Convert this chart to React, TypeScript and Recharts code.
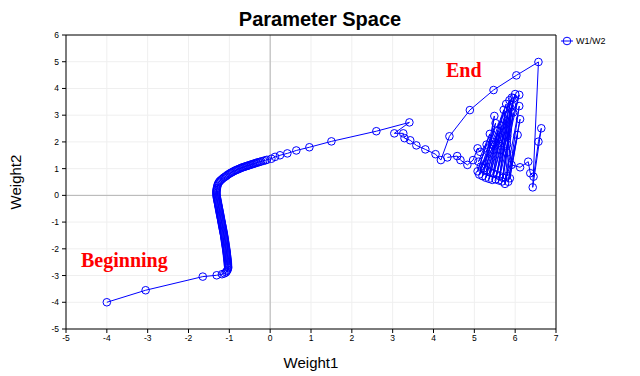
import React from 'react';
import { ScatterChart, Scatter, XAxis, YAxis, CartesianGrid, ReferenceLine } from 'recharts';

const xTicks = [-5, -4, -3, -2, -1, 0, 1, 2, 3, 4, 5, 6, 7];
const yTicks = [-5, -4, -3, -2, -1, 0, 1, 2, 3, 4, 5, 6];

const startPath: [number, number][] = [
  [-4, -4], [-3.05, -3.55], [-1.65, -3.04], [-1.31, -2.99], [-1.18, -2.95], [-1.12, -2.92],
  [-1.08, -2.88], [-1.06, -2.83], [-1.04, -2.78], [-1.03, -2.72],
];

const descentBand: [number, number][] = [
  [-1.03, -2.68], [-1.032, -2.64], [-1.034, -2.6], [-1.036, -2.56], [-1.038, -2.52], [-1.04, -2.48],
  [-1.043, -2.44], [-1.046, -2.4], [-1.049, -2.36], [-1.052, -2.32], [-1.055, -2.28], [-1.058, -2.24],
  [-1.061, -2.2], [-1.064, -2.16], [-1.067, -2.12], [-1.07, -2.08], [-1.074, -2.04], [-1.078, -2.0],
  [-1.082, -1.96], [-1.086, -1.92], [-1.09, -1.88], [-1.094, -1.84], [-1.098, -1.8], [-1.102, -1.76],
  [-1.106, -1.72], [-1.11, -1.68], [-1.114, -1.64], [-1.118, -1.6], [-1.122, -1.56], [-1.126, -1.52],
  [-1.13, -1.48], [-1.135, -1.44], [-1.14, -1.4], [-1.145, -1.36], [-1.15, -1.32], [-1.155, -1.28],
  [-1.16, -1.24], [-1.165, -1.2], [-1.17, -1.16], [-1.175, -1.12], [-1.18, -1.08], [-1.185, -1.04],
  [-1.19, -1.0], [-1.195, -0.96], [-1.2, -0.92], [-1.205, -0.88], [-1.21, -0.84], [-1.215, -0.8],
  [-1.22, -0.76], [-1.225, -0.72], [-1.23, -0.68], [-1.235, -0.64], [-1.24, -0.6], [-1.245, -0.56],
  [-1.25, -0.52], [-1.255, -0.48], [-1.26, -0.44], [-1.265, -0.4], [-1.27, -0.36], [-1.275, -0.32],
  [-1.28, -0.28], [-1.285, -0.24], [-1.29, -0.2], [-1.295, -0.16], [-1.3, -0.12], [-1.305, -0.08],
  [-1.31, -0.04], [-1.312, 0.0], [-1.315, 0.04], [-1.316, 0.08], [-1.316, 0.12], [-1.315, 0.16],
  [-1.312, 0.2], [-1.308, 0.24], [-1.302, 0.28],
];

const turnCurve: [number, number][] = [
  [-1.295, 0.34], [-1.285, 0.4], [-1.27, 0.45], [-1.25, 0.5], [-1.23, 0.54], [-1.2, 0.58],
  [-1.17, 0.62], [-1.14, 0.66], [-1.11, 0.69], [-1.08, 0.72], [-1.05, 0.76], [-1.02, 0.79],
  [-0.99, 0.82], [-0.96, 0.845], [-0.93, 0.87], [-0.9, 0.895], [-0.87, 0.92], [-0.84, 0.94],
  [-0.81, 0.96], [-0.78, 0.98], [-0.75, 1.0], [-0.72, 1.02], [-0.69, 1.04], [-0.66, 1.055],
  [-0.63, 1.07], [-0.6, 1.085], [-0.57, 1.1], [-0.54, 1.115], [-0.51, 1.13], [-0.48, 1.145],
  [-0.45, 1.16], [-0.42, 1.175], [-0.39, 1.19], [-0.36, 1.205], [-0.33, 1.22], [-0.3, 1.235],
  [-0.26, 1.25], [-0.22, 1.27], [-0.17, 1.29], [-0.12, 1.31], [-0.08, 1.33], [0.03, 1.37],
  [0.12, 1.44], [0.24, 1.5], [0.42, 1.57], [0.64, 1.68], [0.96, 1.8], [1.5, 2.02], [2.6, 2.4],
  [3.41, 2.73],
];

const approachPath: [number, number][] = [
  [3.04, 2.32], [3.26, 2.32], [3.29, 2.14], [3.43, 2.06], [3.58, 1.87], [3.8, 1.72], [4.05, 1.54],
  [4.18, 1.32], [4.39, 2.21], [4.89, 3.19], [5.47, 3.94], [6.03, 4.49], [6.57, 4.99], [6.43, 0.3],
  [6.64, 2.51], [6.57, 2.01], [6.45, 0.7], [6.37, 0.83], [6.32, 1.26], [6.12, 1.05], [5.91, 1.14],
];

const oscillation: [number, number][] = [
  [5.72, 3.2], [5.42, 1.9], [5.12, 0.78], [5.52, 2.7], [5.2, 0.72], [5.46, 1.9], [5.78, 3.42],
  [5.28, 0.66], [5.86, 3.56], [5.6, 2.1], [5.36, 0.62], [5.92, 3.66], [5.44, 0.58], [6.0, 3.79],
  [5.52, 0.6], [5.8, 2.2], [6.1, 3.76], [5.6, 0.56], [5.96, 3.63], [5.68, 0.52], [5.8, 1.9],
  [5.92, 3.38], [5.75, 0.43], [6.1, 3.34], [5.83, 0.51], [6.12, 2.85], [5.87, 0.64], [6.06, 2.26],
  [5.8, 0.72], [5.95, 3.1], [5.7, 0.66], [5.8, 1.6], [5.88, 3.28], [5.62, 0.72], [5.82, 3.02],
  [5.55, 0.78], [5.65, 1.7], [5.74, 2.84], [5.46, 0.82], [5.66, 2.6], [5.38, 0.88], [5.58, 2.42],
  [5.3, 0.94], [5.49, 2.97], [5.24, 1.02], [5.62, 2.18], [5.16, 1.08], [5.45, 2.0], [5.1, 1.26],
  [5.38, 2.3], [5.08, 0.9], [5.3, 1.9], [5.14, 1.63], [5.08, 1.76], [4.97, 1.32],
];

const tailPath: [number, number][] = [
  [4.83, 1.14], [4.66, 1.32], [4.58, 1.47], [4.34, 1.42],
];

const seriesName = 'W1/W2';
const titleText = 'Parameter Space';
const xLabel = 'Weight1';
const yLabel = 'Weight2';
const startNote = 'Beginning';
const endNote = 'End';

const points = [...startPath, ...descentBand, ...turnCurve, ...approachPath, ...oscillation, ...tailPath].map(
  ([x, y]) => ({ x, y })
);

const BLUE = '#0000ff';
const FONT = 'Arial, "Liberation Sans", sans-serif';

const Marker = (props: any) => {
  const { cx, cy } = props;
  if (cx == null || cy == null) return null;
  return <circle cx={cx} cy={cy} r={3.8} fill="none" stroke={BLUE} strokeWidth={1} />;
};

export default function App() {
  return (
    <div style={{ position: 'absolute', left: 0, top: 0, width: 640, height: 376, background: '#fff' }}>
      <ScatterChart width={640} height={376} margin={{ top: 35, right: 84, bottom: 0, left: 0 }}>
        <CartesianGrid stroke="#efefef" strokeWidth={1} />
        <XAxis
          type="number"
          dataKey="x"
          domain={[-5, 7]}
          ticks={xTicks}
          interval={0}
          allowDataOverflow
          height={47}
          tickSize={4}
          tickMargin={2}
          axisLine={{ stroke: '#000' }}
          tickLine={{ stroke: '#000' }}
          tick={{ fontSize: 8.5, fill: '#000', fontFamily: FONT }}
        />
        <YAxis
          type="number"
          dataKey="y"
          domain={[-5, 6]}
          ticks={yTicks}
          interval={0}
          allowDataOverflow
          width={66}
          tickSize={4}
          tickMargin={3}
          axisLine={{ stroke: '#000' }}
          tickLine={{ stroke: '#000' }}
          tick={{ fontSize: 8.5, fill: '#000', fontFamily: FONT }}
        />
        <ReferenceLine x={0} stroke="#b4b4b4" strokeWidth={1} />
        <ReferenceLine y={0} stroke="#b4b4b4" strokeWidth={1} />
        <ReferenceLine y={6} stroke="#000" strokeWidth={1} />
        <ReferenceLine x={7} stroke="#000" strokeWidth={1} />
        <Scatter
          name={seriesName}
          data={points}
          line={{ stroke: BLUE, strokeWidth: 1 }}
          lineType="joint"
          shape={Marker}
          isAnimationActive={false}
        />
      </ScatterChart>
      <svg
        width={640}
        height={376}
        style={{ position: 'absolute', left: 0, top: 0, pointerEvents: 'none' }}
      >
        <text x={320} y={26} textAnchor="middle" fontFamily={FONT} fontWeight="bold" fontSize={20} fill="#000">
          {titleText}
        </text>
        <text x={311} y={368} textAnchor="middle" fontFamily={FONT} fontSize={15} fill="#000">
          {xLabel}
        </text>
        <text
          x={0}
          y={0}
          transform="translate(21,182) rotate(-90)"
          textAnchor="middle"
          fontFamily={FONT}
          fontSize={15}
          fill="#000"
        >
          {yLabel}
        </text>
        <text x={81} y={267} fontFamily='"Liberation Serif", "Times New Roman", serif' fontWeight="bold" fontSize={20} fill="#ff0000">
          {startNote}
        </text>
        <text x={446} y={77} fontFamily='"Liberation Serif", "Times New Roman", serif' fontWeight="bold" fontSize={20} fill="#ff0000">
          {endNote}
        </text>
        <line x1={561} y1={41} x2={573} y2={41} stroke={BLUE} strokeWidth={1} />
        <circle cx={567} cy={41} r={3.8} fill="none" stroke={BLUE} strokeWidth={1} />
        <text x={576} y={44} fontFamily={FONT} fontSize={9} fill="#000">
          {seriesName}
        </text>
      </svg>
    </div>
  );
}
